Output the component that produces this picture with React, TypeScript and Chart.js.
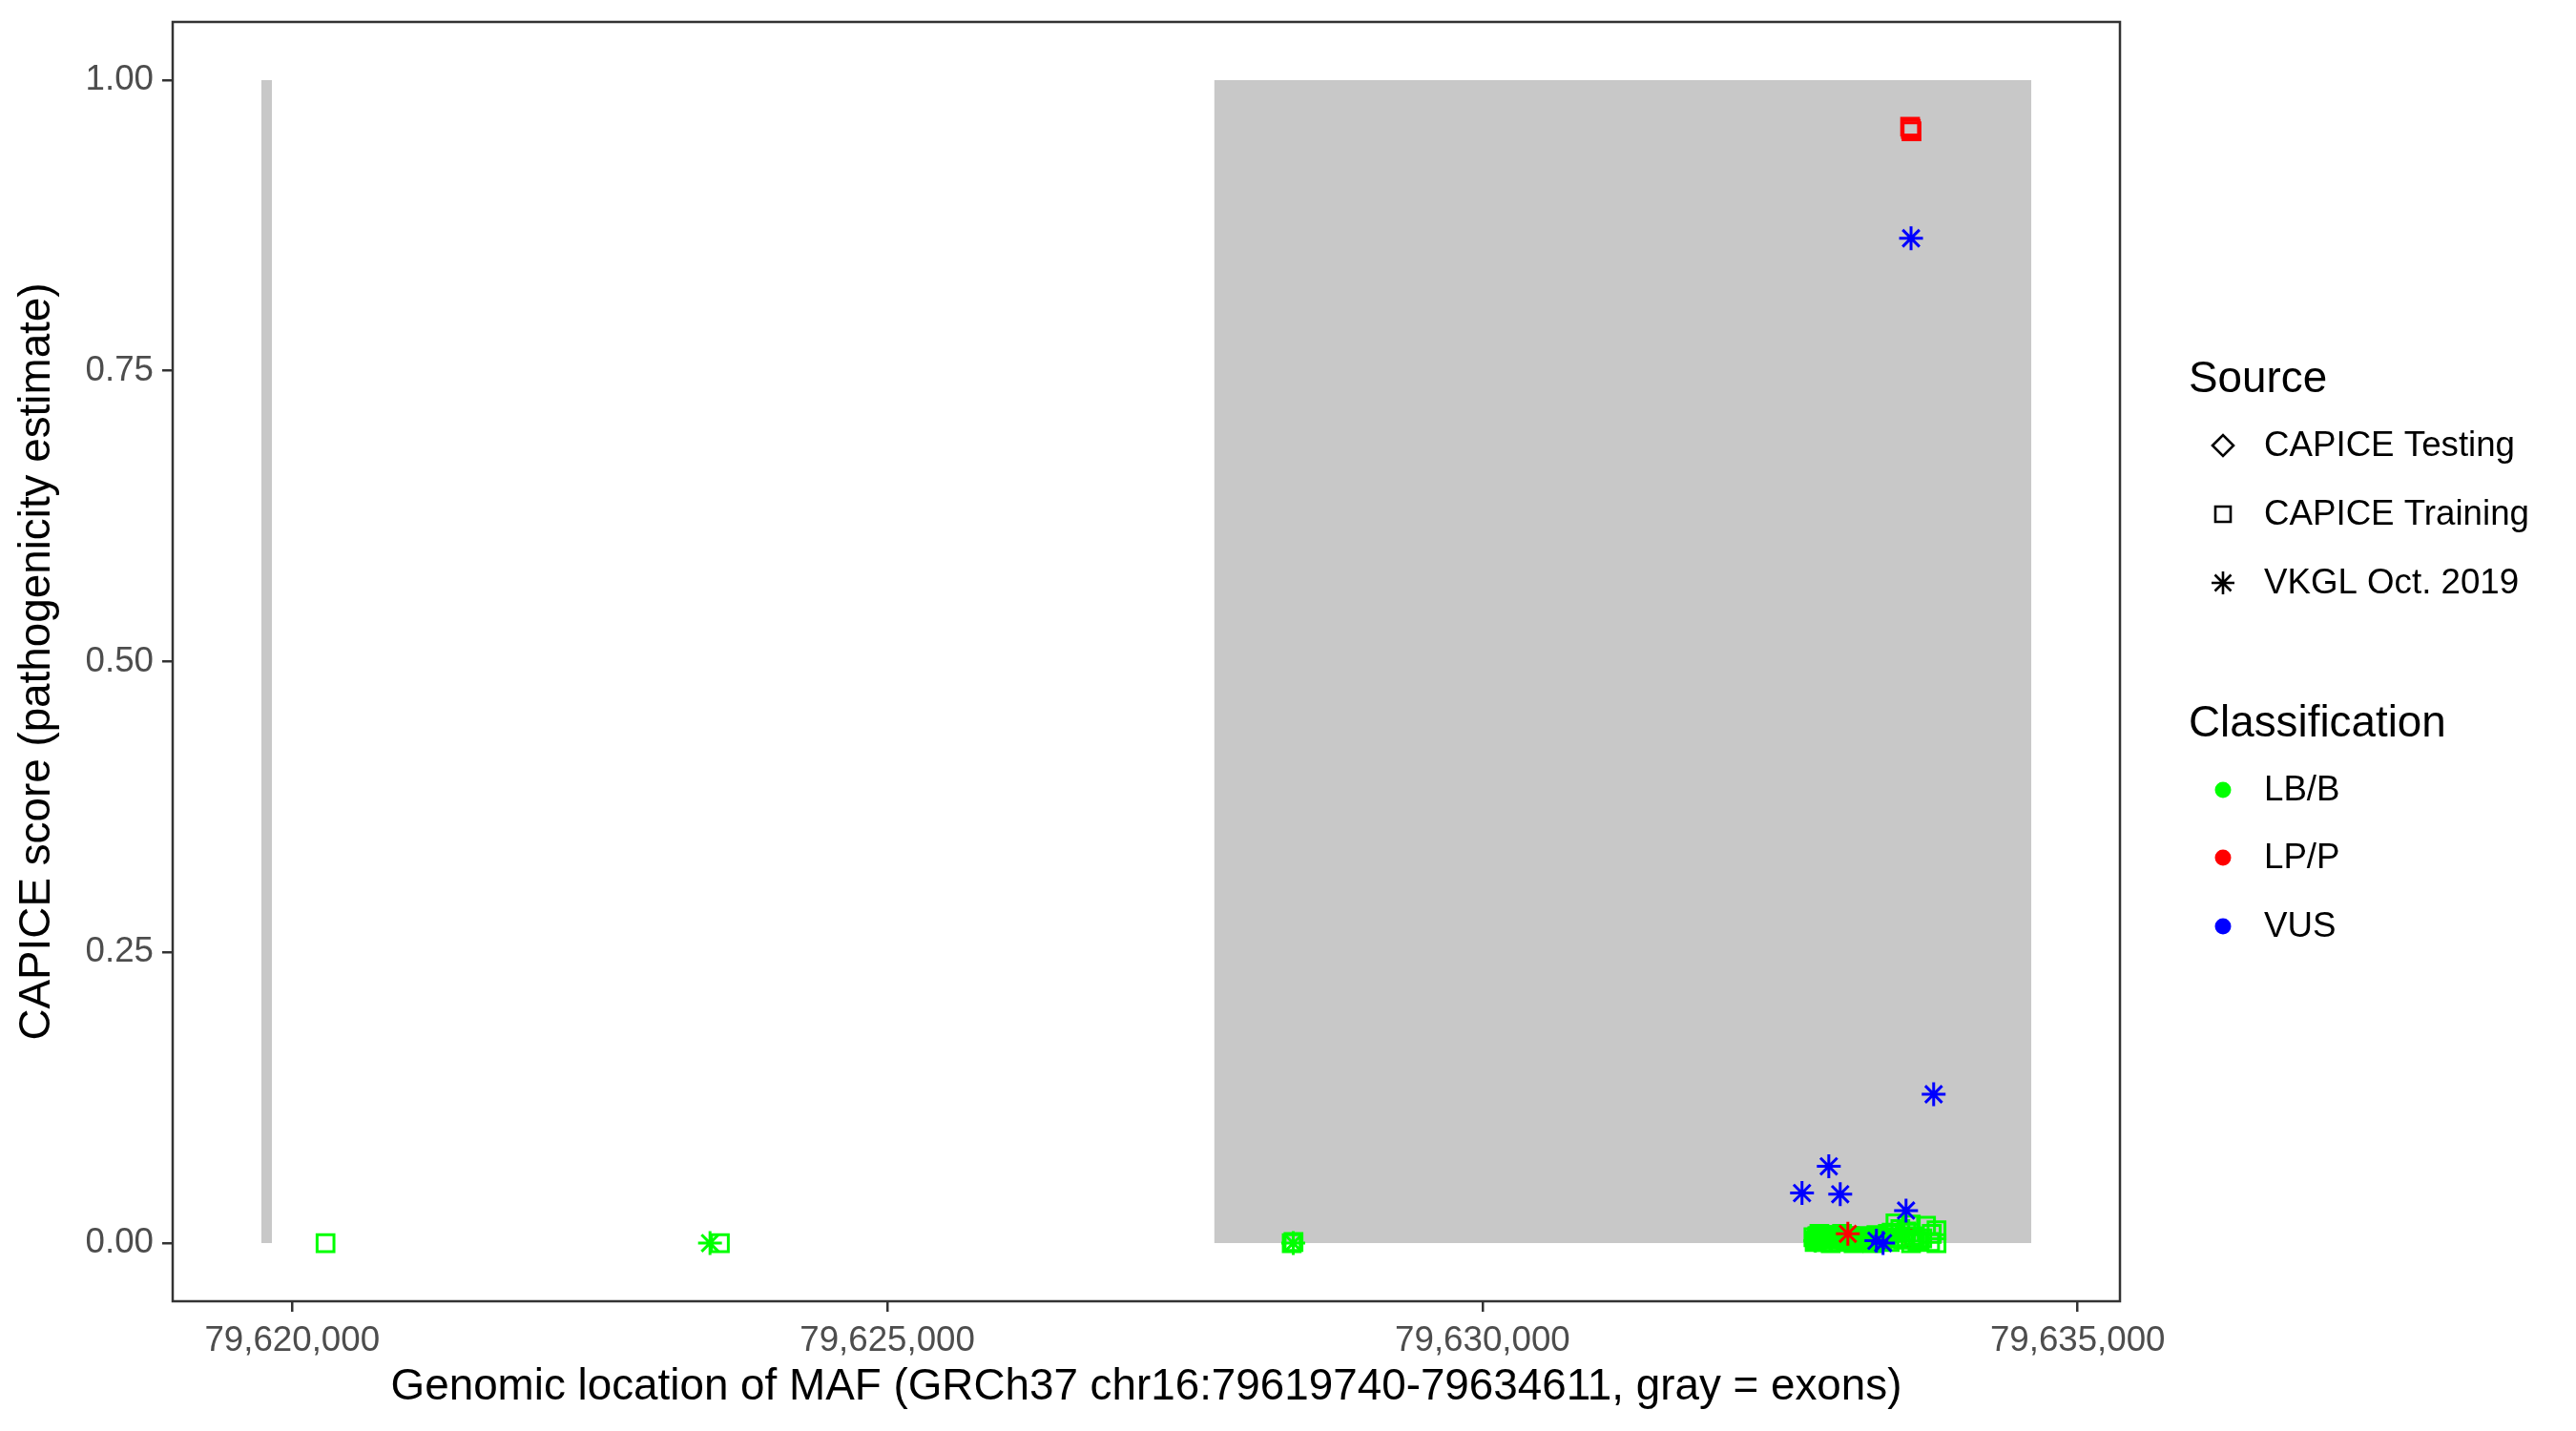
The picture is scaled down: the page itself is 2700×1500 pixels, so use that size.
import React, { useEffect, useRef } from 'react';
import { Chart, registerables } from 'chart.js';

Chart.register(...registerables);

// ---- axis / tick data ----
const X_MIN = 79618996;
const X_MAX = 79635355;
const X_TICKS = [79620000, 79625000, 79630000, 79635000];
const Y_MIN = -0.05;
const Y_MAX = 1.05;
const Y_TICKS = [0, 0.25, 0.5, 0.75, 1.0];

// ---- exons (gray rectangles, score 0..1) ----
const EXON_STARTS = [79619740, 79627745];
const EXON_ENDS = [79619830, 79634611];
const EXON_TOP = 1;

// ---- CAPICE Training, LB/B ----
const trainBenignPos = [
  79620280, 79623593, 79628397, 79628412,
  79632790, 79632800, 79632810, 79632820, 79632780, 79632795, 79632812, 79632830,
  79632845, 79632860, 79632877, 79632892, 79632909, 79632925, 79632941, 79632957,
  79632973, 79632990, 79633005, 79633020, 79633037, 79633052, 79633069, 79633085,
  79633101, 79633117, 79633133, 79633150, 79633165, 79633180, 79633197, 79633213,
  79633229, 79633245, 79633261, 79633277, 79633293, 79633309, 79633325, 79633341,
  79633357, 79633373, 79633389, 79633405, 79633421, 79633437, 79633453, 79633469,
  79633486, 79633510, 79633534, 79633560, 79633590, 79633598, 79633600, 79633630,
  79633654, 79633694, 79633726, 79633760, 79633774, 79633814, 79633814,
];
const trainBenignScore = [
  0.000, 0.000, 0.000, 0.001,
  0.001, 0.002, 0.003, 0.006, 0.005, 0.002, 0.006, 0.008,
  0.004, 0.001, 0.007, 0.003, 0.005, 0.000, 0.007, 0.004,
  0.006, 0.001, 0.004, 0.008, 0.006, 0.002, 0.003, 0.006,
  0.005, 0.000, 0.002, 0.006, 0.004, 0.001, 0.003, 0.006,
  0.001, 0.004, 0.005, 0.000, 0.003, 0.007, 0.006, 0.002,
  0.002, 0.005, 0.004, 0.008, 0.001, 0.009, 0.004, 0.017,
  0.005, 0.012, 0.003, 0.010, 0.009, 0.016, 0.000, 0.006,
  0.002, 0.004, 0.015, 0.001, 0.008, 0.011, 0.000,
];

// ---- CAPICE Training, LP/P ----
const trainPathoPos = [79633598, 79633592, 79633604, 79633622, 79632893];
const trainPathoScore = [0.958, 0.960, 0.956, 0.004, 0.006];

// ---- VKGL Oct. 2019, LB/B ----
const vkglBenignPos = [79623510, 79628410, 79632796, 79633061];
const vkglBenignScore = [0.000, 0.000, 0.002, 0.002];

// ---- VKGL Oct. 2019, LP/P ----
const vkglPathoPos = [79633069];
const vkglPathoScore = [0.008];

// ---- VKGL Oct. 2019, VUS ----
const vkglVusPos = [79633600, 79633790, 79632909, 79632684, 79633005, 79633558, 79633309, 79633365];
const vkglVusScore = [0.864, 0.128, 0.066, 0.043, 0.042, 0.028, 0.002, 0.000];

// ---- legend ----
const SOURCE_LABELS = ['CAPICE Testing', 'CAPICE Training', 'VKGL Oct. 2019'];
const SOURCE_SHAPES = ['diamond', 'square', 'star'];
const CLASS_LABELS = ['LB/B', 'LP/P', 'VUS'];
const CLASS_COLORS = ['#00FF00', '#FF0000', '#0000FF'];

const X_TITLE = 'Genomic location of MAF (GRCh37 chr16:79619740-79634611, gray = exons)';
const Y_TITLE = 'CAPICE score (pathogenicity estimate)';

const FONT = '"Liberation Sans", Arial, Helvetica, sans-serif';

const toPoints = (xs: number[], ys: number[]) => xs.map((x, i) => ({ x, y: ys[i] }));

const fmtComma = (v: number) => {
  const s = Math.round(v).toString();
  return s.replace(/\B(?=(\d{3})+(?!\d))/g, ',');
};

const legendPlugin = {
  id: 'ggLegendBorder',
  afterDraw(chart: any) {
    const { ctx, chartArea } = chart;
    ctx.save();
    // panel border
    ctx.strokeStyle = '#333333';
    ctx.lineWidth = 2.5;
    ctx.strokeRect(chartArea.left, chartArea.top, chartArea.right - chartArea.left, chartArea.bottom - chartArea.top);

    // legend
    const titleX = 2294;
    const keyX = 2330;
    const textX = 2373;
    ctx.fillStyle = '#000000';
    ctx.textAlign = 'left';
    ctx.textBaseline = 'middle';
    ctx.font = `45.8px ${FONT}`;
    ctx.fillText('Source', titleX, 398);
    ctx.fillText('Classification', titleX, 759);

    const srcY = [467, 539, 611];
    ctx.font = `36.7px ${FONT}`;
    SOURCE_LABELS.forEach((lab, i) => {
      const y = srcY[i];
      ctx.strokeStyle = '#000000';
      ctx.lineWidth = 2.6;
      const shape = SOURCE_SHAPES[i];
      ctx.beginPath();
      if (shape === 'diamond') {
        const r = 11;
        ctx.moveTo(keyX - r, y);
        ctx.lineTo(keyX, y - r);
        ctx.lineTo(keyX + r, y);
        ctx.lineTo(keyX, y + r);
        ctx.closePath();
      } else if (shape === 'square') {
        ctx.rect(keyX - 8, y - 8, 16, 16);
      } else {
        const r = 12;
        for (let k = 0; k < 4; k++) {
          const a = (k * Math.PI) / 4;
          ctx.moveTo(keyX - Math.cos(a) * r, y - Math.sin(a) * r);
          ctx.lineTo(keyX + Math.cos(a) * r, y + Math.sin(a) * r);
        }
      }
      ctx.stroke();
      ctx.fillStyle = '#000000';
      ctx.fillText(lab, textX, y + 1);
    });

    const clsY = [828, 899, 971];
    CLASS_LABELS.forEach((lab, i) => {
      const y = clsY[i];
      ctx.fillStyle = CLASS_COLORS[i];
      ctx.beginPath();
      ctx.arc(keyX, y, 8.5, 0, Math.PI * 2);
      ctx.fill();
      ctx.fillStyle = '#000000';
      ctx.fillText(lab, textX, y + 1);
    });
    ctx.restore();
  },
};

export default function App() {
  const ref = useRef<HTMLCanvasElement | null>(null);

  useEffect(() => {
    document.body.style.margin = '0';
    const canvas = ref.current;
    if (!canvas) return;
    Chart.defaults.font.family = FONT;

    const exonSets = EXON_STARTS.map((s, i) => ({
      type: 'line' as const,
      label: `exon${i}`,
      data: [
        { x: s, y: EXON_TOP },
        { x: EXON_ENDS[i], y: EXON_TOP },
      ],
      showLine: true,
      fill: { value: 0 },
      backgroundColor: '#C8C8C8',
      borderColor: 'rgba(0,0,0,0)',
      borderWidth: 0,
      pointRadius: 0,
      order: 10,
    }));

    const pts = (label: string, xs: number[], ys: number[], color: string, style: string, radius: number, order: number) => ({
      type: 'scatter' as const,
      label,
      data: toPoints(xs, ys),
      pointStyle: style,
      pointRadius: radius,
      pointHoverRadius: radius,
      pointBorderColor: color,
      pointBackgroundColor: 'rgba(0,0,0,0)',
      pointBorderWidth: 3,
      borderColor: color,
      backgroundColor: 'rgba(0,0,0,0)',
      showLine: false,
      order,
    });

    const chart = new Chart(canvas, {
      type: 'scatter',
      data: {
        datasets: [
          ...exonSets,
          pts('Training LP/P', trainPathoPos, trainPathoScore, CLASS_COLORS[1], 'rect', 12.5, 6),
          pts('Training LB/B', trainBenignPos, trainBenignScore, CLASS_COLORS[0], 'rect', 12.5, 5),
          pts('VKGL LB/B', vkglBenignPos, vkglBenignScore, CLASS_COLORS[0], 'star', 12.5, 4),
          pts('VKGL LP/P', vkglPathoPos, vkglPathoScore, CLASS_COLORS[1], 'star', 12.5, 3),
          pts('VKGL VUS', vkglVusPos, vkglVusScore, CLASS_COLORS[2], 'star', 12.5, 2),
        ] as any,
      },
      options: {
        responsive: false,
        devicePixelRatio: 1,
        animation: false,
        events: [],
        layout: { padding: { top: 23, right: 478, left: 0, bottom: 0 } },
        plugins: {
          legend: { display: false },
          tooltip: { enabled: false },
        },
        scales: {
          x: {
            type: 'linear',
            min: X_MIN,
            max: X_MAX,
            afterBuildTicks: (s: any) => {
              s.ticks = X_TICKS.map((v) => ({ value: v }));
            },
            afterFit: (s: any) => {
              s.height = 136;
              s.paddingLeft = 0;
              s.paddingRight = 0;
            },
            ticks: {
              callback: (v: any) => fmtComma(Number(v)),
              color: '#4D4D4D',
              font: { size: 36.7, family: FONT },
              padding: 9,
              autoSkip: false,
              maxRotation: 0,
              minRotation: 0,
            },
            grid: {
              display: true,
              drawOnChartArea: false,
              drawTicks: true,
              tickLength: 11,
              tickColor: '#333333',
              tickWidth: 2.5,
              color: '#333333',
              lineWidth: 2.5,
            },
            border: { display: false },
            title: {
              display: true,
              text: X_TITLE,
              color: '#000000',
              font: { size: 45.8, family: FONT },
              padding: { top: 0, bottom: 18 },
            },
          },
          y: {
            type: 'linear',
            min: Y_MIN,
            max: Y_MAX,
            afterBuildTicks: (s: any) => {
              s.ticks = Y_TICKS.map((v) => ({ value: v }));
            },
            afterFit: (s: any) => {
              s.width = 181;
              s.paddingTop = 0;
              s.paddingBottom = 0;
            },
            ticks: {
              callback: (v: any) => Number(v).toFixed(2),
              color: '#4D4D4D',
              font: { size: 36.7, family: FONT },
              padding: 9,
              autoSkip: false,
            },
            grid: {
              display: true,
              drawOnChartArea: false,
              drawTicks: true,
              tickLength: 11,
              tickColor: '#333333',
              tickWidth: 2.5,
              color: '#333333',
              lineWidth: 2.5,
            },
            border: { display: false },
            title: {
              display: true,
              text: Y_TITLE,
              color: '#000000',
              font: { size: 45.8, family: FONT },
              padding: { top: 12, bottom: 0 },
            },
          },
        },
      },
      plugins: [legendPlugin],
    } as any);

    return () => {
      chart.destroy();
    };
  }, []);

  return (
    <div style={{ width: 2700, height: 1500, background: '#FFFFFF' }}>
      <canvas ref={ref} width={2700} height={1500} style={{ display: 'block', width: 2700, height: 1500 }} />
    </div>
  );
}
